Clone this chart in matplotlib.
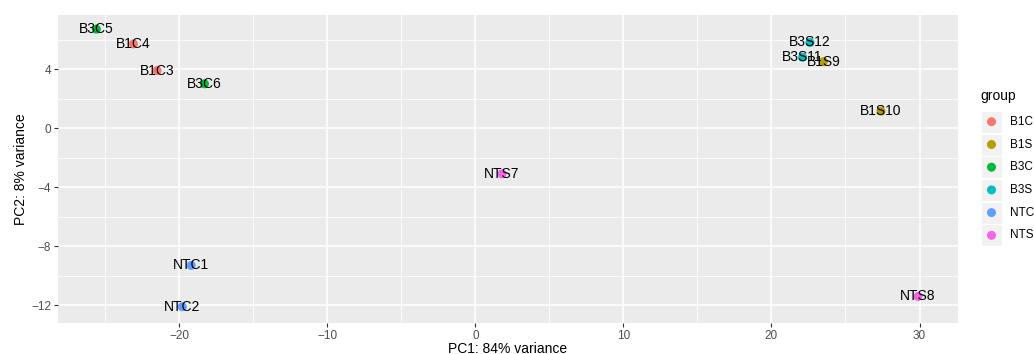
import matplotlib.pyplot as plt
from matplotlib.patches import Rectangle

plt.rcParams['font.family'] = ['Liberation Sans', 'DejaVu Sans']

# PCA data
samples = ['B1C3', 'B1C4', 'B1S9', 'B1S10', 'B3C5', 'B3C6',
           'B3S11', 'B3S12', 'NTC1', 'NTC2', 'NTS7', 'NTS8']
groups = ['B1C', 'B1C', 'B1S', 'B1S', 'B3C', 'B3C',
          'B3S', 'B3S', 'NTC', 'NTC', 'NTS', 'NTS']
pc1 = [-21.5, -23.1, 23.5, 27.4, -25.6, -18.3, 22.1, 22.6, -19.2, -19.8, 1.8, 29.9]
pc2 = [3.9, 5.7, 4.5, 1.15, 6.7, 3.0, 4.8, 5.8, -9.3, -12.1, -3.1, -11.4]

group_names = ['B1C', 'B1S', 'B3C', 'B3S', 'NTC', 'NTS']
group_colors = ['#F8766D', '#B79F00', '#00BA38', '#00BFC4', '#619CFF', '#F564E3']
color_map = dict(zip(group_names, group_colors))

fig = plt.figure(figsize=(10.34, 3.54), dpi=100)
ax = fig.add_axes([0.056, 0.0876, 0.8705, 0.87])
ax.set_facecolor('#EBEBEB')

ax.set_xlim(-28.2, 32.6)
ax.set_ylim(-13.2, 7.66)

# ggplot-style grid
for v in [-25, -15, -5, 5, 15, 25]:
    ax.axvline(v, color='white', lw=0.6, zorder=0)
for v in [-10, -6, -2, 2, 6]:
    ax.axhline(v, color='white', lw=0.6, zorder=0)
for v in [-20, -10, 0, 10, 20, 30]:
    ax.axvline(v, color='white', lw=1.2, zorder=0)
for v in [-12, -8, -4, 0, 4]:
    ax.axhline(v, color='white', lw=1.2, zorder=0)

ax.scatter(pc1, pc2, c=[color_map[g] for g in groups], s=42, zorder=2, linewidths=0)
for x, y, s in zip(pc1, pc2, samples):
    ax.text(x, y, s, ha='center', va='center', fontsize=10, color='black', zorder=3)

ax.set_xticks([-20, -10, 0, 10, 20, 30])
ax.set_xticklabels(['\u221220', '\u221210', '0', '10', '20', '30'])
ax.set_yticks([-12, -8, -4, 0, 4])
ax.set_yticklabels(['\u221212', '\u22128', '\u22124', '0', '4'])
ax.tick_params(colors='#333333', labelcolor='#4D4D4D', labelsize=8.5,
               length=3, width=0.8, pad=2)
for sp in ax.spines.values():
    sp.set_visible(False)

ax.set_xlabel('PC1: 84% variance', fontsize=10, labelpad=0)
ax.set_ylabel('PC2: 8% variance', fontsize=10, labelpad=2)

# legend drawn in figure pixels
W, H = 1034, 354
leg_ax = fig.add_axes([0, 0, 1, 1], facecolor='none', zorder=5)
leg_ax.set_xlim(0, W)
leg_ax.set_ylim(H, 0)
leg_ax.axis('off')
leg_ax.text(980, 96, 'group', fontsize=10, va='center', ha='left')
key_y = [121.7, 144.5, 167.2, 189.9, 212.6, 235.3]
for g, yk in zip(group_names, key_y):
    leg_ax.add_patch(Rectangle((981, yk - 11), 21, 22, facecolor='#F2F2F2',
                               edgecolor='white', lw=0.8, zorder=1))
    leg_ax.text(1010, yk, g, fontsize=8.5, va='center', ha='left')
leg_ax.scatter([991.5] * len(key_y), key_y, c=group_colors, s=42,
               linewidths=0, zorder=2)

fig.savefig('out.png', dpi=100)
